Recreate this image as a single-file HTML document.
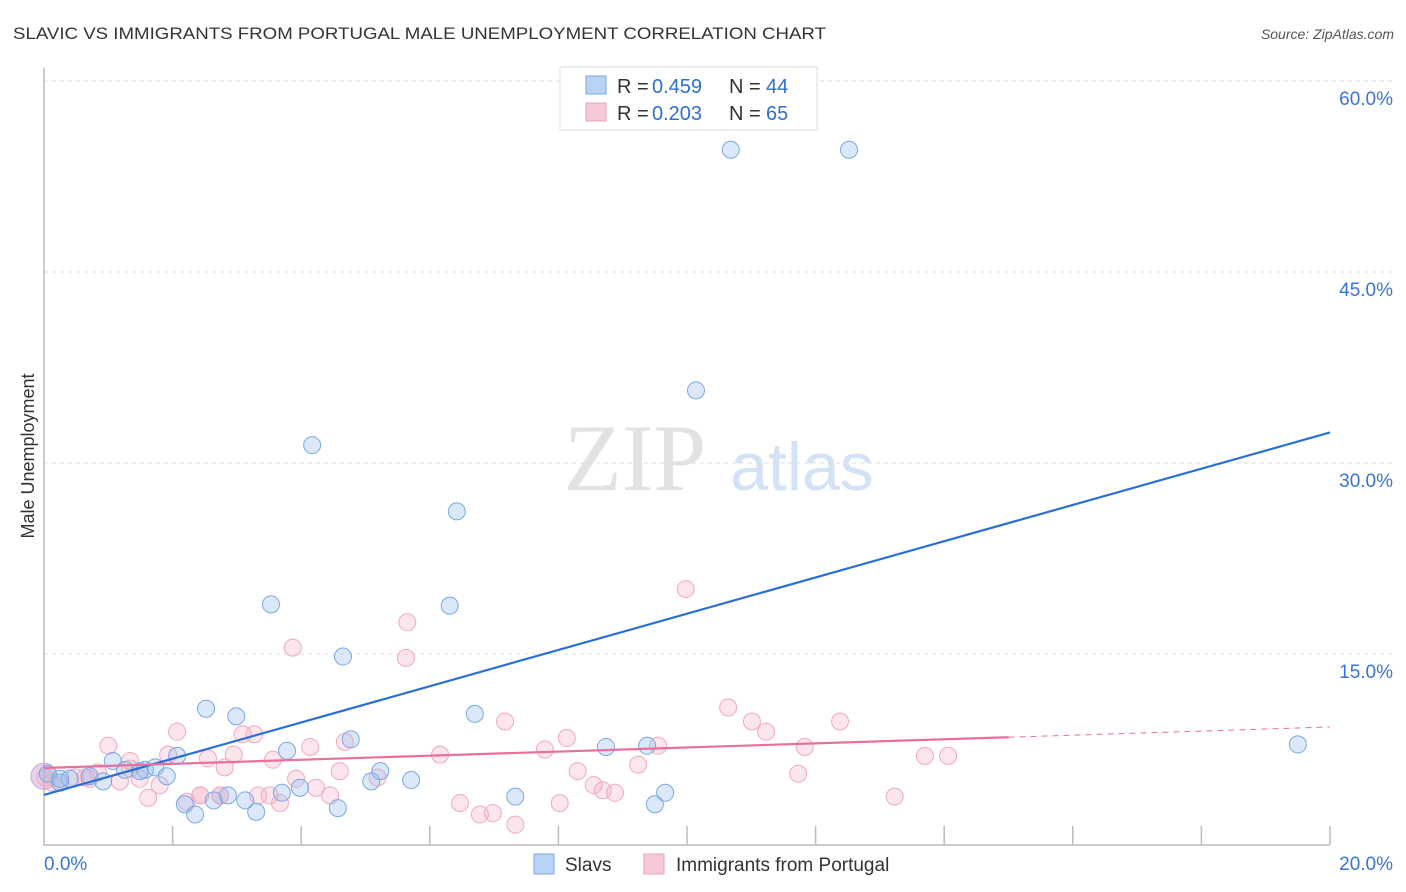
<!DOCTYPE html>
<html><head><meta charset="utf-8"><style>
body{margin:0;background:#fff;font-family:"Liberation Sans",sans-serif}
svg{display:block}
</style></head><body>
<svg id="c" width="1406" height="892">
<text x="13" y="39" font-size="17" fill="#333" textLength="813" lengthAdjust="spacingAndGlyphs">SLAVIC VS IMMIGRANTS FROM PORTUGAL MALE UNEMPLOYMENT CORRELATION CHART</text>
<text x="1394" y="39" font-size="14" fill="#555" font-style="italic" text-anchor="end">Source: ZipAtlas.com</text>
<text x="34" y="456" font-size="18" fill="#333" text-anchor="middle" transform="rotate(-90 34 456)">Male Unemployment</text>
<g><text x="635" y="490" font-size="95" fill="#e2e2e2" font-family="Liberation Serif" text-anchor="middle">ZIP</text><text x="802" y="490" font-size="68" fill="#d3e2f5" text-anchor="middle">atlas</text></g>
<g id="grid"></g><g id="axes"></g><g id="pts"></g><g id="lines"></g>
<g>
<rect x="560" y="67" width="257" height="63" fill="#fff" stroke="#ddd"/>
<rect x="586" y="76" width="20" height="18" fill="#b8d3f5" stroke="#7aa8e0"/>
<rect x="586" y="103" width="20" height="18" fill="#f9c8d7" stroke="#eaa0b8"/>
<text x="617" y="93" font-size="20" fill="#333">R =</text><text x="652" y="93" font-size="20" fill="#2f6fd0">0.459</text>
<text x="729" y="93" font-size="20" fill="#333">N =</text><text x="766" y="93" font-size="20" fill="#2f6fd0">44</text>
<text x="617" y="120" font-size="20" fill="#333">R =</text><text x="652" y="120" font-size="20" fill="#2f6fd0">0.203</text>
<text x="729" y="120" font-size="20" fill="#333">N =</text><text x="766" y="120" font-size="20" fill="#2f6fd0">65</text>
</g>
<g>
<rect x="534" y="854" width="20" height="20" fill="#b8d3f5" stroke="#7aa8e0"/>
<text x="565" y="871" font-size="19" fill="#333">Slavs</text>
<rect x="644" y="854" width="20" height="20" fill="#f9c8d7" stroke="#eaa0b8"/>
<text x="676" y="871" font-size="19" fill="#333">Immigrants from Portugal</text>
</g>
</svg>
<script>
const yTicks=[15,30,45,60];
const yTickLabels=["15.0%","30.0%","45.0%","60.0%"];
const xTicks=[0,2,4,6,8,10,12,14,16,18,20];
const slavX=[10.68,12.52,10.14,4.17,6.42,3.53,6.31,4.65,2.52,2.99,6.70,4.77,3.78,8.74,9.38,19.5,2.07,1.07,0.06,0.25,0.40,0.71,0.92,1.26,1.57,1.73,1.91,2.19,2.35,2.64,2.86,3.13,3.30,3.70,3.98,4.57,5.09,5.23,5.71,7.33,9.50,9.66,0.25,1.49];
const slavY=[54.6,54.6,35.7,31.4,26.2,18.9,18.8,14.8,10.7,10.1,10.3,8.3,7.4,7.7,7.8,7.9,7.0,6.6,5.6,4.9,5.2,5.4,5.0,5.9,5.9,6.1,5.4,3.2,2.4,3.5,3.9,3.5,2.6,4.1,4.5,2.9,5.0,5.8,5.1,3.8,3.2,4.1,5.2,5.8];
const portX=[0.02,0.25,0.48,0.64,0.84,1.00,1.18,1.34,1.49,1.62,1.80,1.93,2.07,2.22,2.43,2.55,2.74,2.81,2.95,3.09,3.27,3.33,3.51,3.56,3.67,3.87,3.92,4.14,4.23,4.45,4.60,4.68,5.19,5.65,5.63,6.16,6.47,6.78,6.98,7.17,7.33,7.79,8.02,8.13,8.30,8.55,8.69,8.88,9.24,9.55,9.98,10.64,11.01,11.23,11.73,11.83,12.38,13.23,13.70,14.06,0.12,1.34,0.71,2.43,2.74];
const portY=[5.3,4.9,5.3,5.3,5.7,7.8,5.0,6.0,5.2,3.7,4.7,7.1,8.9,3.4,3.9,6.8,3.9,6.1,7.1,8.7,8.7,3.9,3.9,6.7,3.3,15.5,5.2,7.7,4.5,3.9,5.8,8.1,5.3,17.5,14.7,7.1,3.3,2.4,2.5,9.7,1.6,7.5,3.3,8.4,5.8,4.7,4.3,4.1,6.3,7.8,20.1,10.8,9.7,8.9,5.6,7.7,9.7,3.8,7.0,7.0,4.9,6.6,5.2,3.9,3.9];
const slavLine=[3.93,32.4];
const portLine=[6.05,9.27];
const portSolidEnd=15;
const X0=44,X1=1330,Y0=845,PX=64.3,PY=12.733;
const xs=v=>X0+v*PX, ys=v=>Y0-v*PY;
const NS="http://www.w3.org/2000/svg";
function mk(t,a,p){const e=document.createElementNS(NS,t);for(const k in a)e.setAttribute(k,a[k]);p.appendChild(e);return e;}
const grid=document.getElementById('grid'),axes=document.getElementById('axes'),pts=document.getElementById('pts'),lines=document.getElementById('lines');
yTicks.forEach((v,i)=>{
 const g=mk('line',{x1:X0,x2:1394,y1:ys(v),y2:ys(v),stroke:'#ddd','stroke-dasharray':'4,4'},grid);
 
 
 const t=mk('text',{x:1393,y:ys(v)+24,'font-size':19,fill:'#3a74d4','text-anchor':'end'},axes);
 t.textContent=yTickLabels[i];
 
 
});
const ax=mk('path',{d:`M${X0} 68V${Y0}H${X1}`,stroke:'#bbb',fill:'none','stroke-width':1.5},axes);


xTicks.forEach(v=>{if(v===0)return;
 const l=mk('line',{x1:xs(v),x2:xs(v),y1:Y0-19,y2:Y0,stroke:'#bbb','stroke-width':1.5},axes);
 
 
});
[["0.0%",44,"start"],["20.0%",1393,"end"]].forEach(a=>{const t=mk('text',{x:a[1],y:870,'font-size':19,fill:'#3a74d4','text-anchor':a[2]},axes);t.textContent=a[0];
 
 });
const big1=mk('circle',{cx:xs(0),cy:ys(5.4),r:13,fill:'rgba(200,170,215,0.5)',stroke:'#c8a8d8'},pts);


portX.forEach((x,i)=>{const c=mk('circle',{cx:xs(x),cy:ys(portY[i]),r:8.5,fill:'rgba(245,170,195,0.3)',stroke:'#eeaac0','stroke-width':1},pts);
 
 });
slavX.forEach((x,i)=>{const c=mk('circle',{cx:xs(x),cy:ys(slavY[i]),r:8.5,fill:'rgba(150,190,240,0.35)',stroke:'#7aa8e3','stroke-width':1},pts);
 
 });
const bl=mk('line',{x1:xs(0),y1:ys(slavLine[0]),x2:xs(20),y2:ys(slavLine[1]),stroke:'#2b6fd6','stroke-width':2.2},lines);


const pm=portLine[0]+(portLine[1]-portLine[0])*portSolidEnd/20;
const pl=mk('line',{x1:xs(0),y1:ys(portLine[0]),x2:xs(portSolidEnd),y2:ys(pm),stroke:'#e8709a','stroke-width':2.2},lines);


const pd=mk('line',{x1:xs(portSolidEnd),y1:ys(pm),x2:xs(20),y2:ys(portLine[1]),stroke:'#e8709a','stroke-width':1,'stroke-dasharray':'6,5'},lines);


</script>
</body></html>
